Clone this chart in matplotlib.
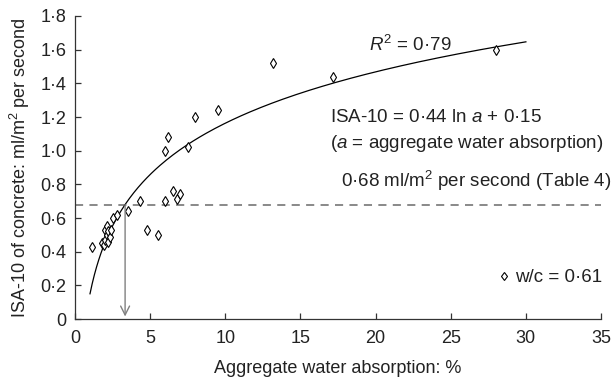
import numpy as np
import matplotlib
matplotlib.use("Agg")
import matplotlib.pyplot as plt
from matplotlib.ticker import FuncFormatter

plt.rcParams['font.family'] = ['Liberation Sans', 'DejaVu Sans']
plt.rcParams['mathtext.fontset'] = 'custom'
plt.rcParams['mathtext.rm'] = 'Liberation Sans'
plt.rcParams['mathtext.it'] = 'Liberation Sans:italic'
plt.rcParams['font.size'] = 13

# Measured data: aggregate water absorption (%) vs ISA-10 (ml/m2 per second)
absorption = [1.1, 1.8, 1.9, 2.0, 2.0, 2.1, 2.1, 2.2, 2.2, 2.3, 2.4,
              2.5, 2.8, 3.5, 4.3, 4.8, 5.5, 6.0, 6.5, 6.8, 7.0,
              6.0, 6.2, 7.5, 8.0, 9.5, 13.2, 17.2, 28.0]
isa10 = [0.43, 0.45, 0.44, 0.47, 0.53, 0.50, 0.55, 0.52, 0.46, 0.49, 0.53,
         0.60, 0.62, 0.64, 0.70, 0.53, 0.50, 0.70, 0.76, 0.71, 0.74,
         1.00, 1.08, 1.02, 1.20, 1.24, 1.52, 1.44, 1.60]

# Logarithmic fit ISA-10 = k ln a + c
fit_k = 0.44
fit_c = 0.15
fit_range = (1.0, 30.0)
limit_value = 0.68

fig = plt.figure(figsize=(6.11, 3.78), dpi=100)
ax = fig.add_axes([0.1227, 0.156, 0.861, 0.8017])

a = np.linspace(*fit_range, 200)
ax.plot(a, fit_k * np.log(a) + fit_c, color='black', lw=0.9, zorder=2)

ax.plot(absorption, isa10, linestyle='none', marker='d', ms=5.5,
        mfc='white', mec='black', mew=0.8, zorder=3, label='w/c = 0·61')

ax.axhline(limit_value, color='#808080', lw=1.3, dashes=(4.5, 3.5), zorder=1)

a_limit = np.exp((limit_value - fit_c) / fit_k)
ax.annotate('', xy=(a_limit, 0.015), xytext=(a_limit, limit_value),
            arrowprops=dict(arrowstyle='->', color='#808080', lw=1.0,
                            mutation_scale=16, shrinkA=0, shrinkB=0))

ax.set_xlim(0, 35)
ax.set_ylim(0, 1.8)
ax.set_xticks(np.arange(0, 36, 5))
ax.set_yticks(np.arange(0, 1.81, 0.2))

def dot_fmt(v, pos):
    if abs(v) < 1e-9:
        return '0'
    return f'{v:.1f}'.replace('.', '·')

ax.yaxis.set_major_formatter(FuncFormatter(dot_fmt))
ax.xaxis.set_major_formatter(FuncFormatter(lambda v, p: f'{v:.0f}'))

for s in ('top', 'right'):
    ax.spines[s].set_visible(False)
for s in ('left', 'bottom'):
    ax.spines[s].set_color('#333333')
    ax.spines[s].set_linewidth(0.9)
ax.tick_params(direction='in', length=4, width=0.9, color='#333333',
               labelsize=13, labelcolor='#222222')
ax.tick_params(axis='x', pad=8)
ax.tick_params(axis='y', pad=6)

ax.set_xlabel('Aggregate water absorption: %', fontsize=13, color='#222222', labelpad=9)
ax.set_ylabel('ISA-10 of concrete: ml/m$^2$ per second', fontsize=13,
              color='#222222', labelpad=6)

txt = dict(fontsize=13.5, color='#222222')
ax.text(22.3, 1.63, r'$R^2$ = 0·79', ha='center', va='center', **txt)
ax.text(17.0, 1.20, r'ISA-10 = 0·44 ln $a$ + 0·15', ha='left', va='center', **txt)
ax.text(17.0, 1.045, r'($a$ = aggregate water absorption)', ha='left', va='center',
        clip_on=False, **txt)
ax.text(17.7, 0.82, r'0·68 ml/m$^2$ per second (Table 4)', ha='left', va='center',
        clip_on=False, **txt)

leg = ax.legend(loc='center left', bbox_to_anchor=(28.2, 0.245),
                bbox_transform=ax.transData, frameon=False, borderpad=0,
                borderaxespad=0, handlelength=0.5, handletextpad=0.35,
                fontsize=13.5, markerscale=0.8)
for t in leg.get_texts():
    t.set_color('#222222')

fig.savefig('out.png', dpi=100)
